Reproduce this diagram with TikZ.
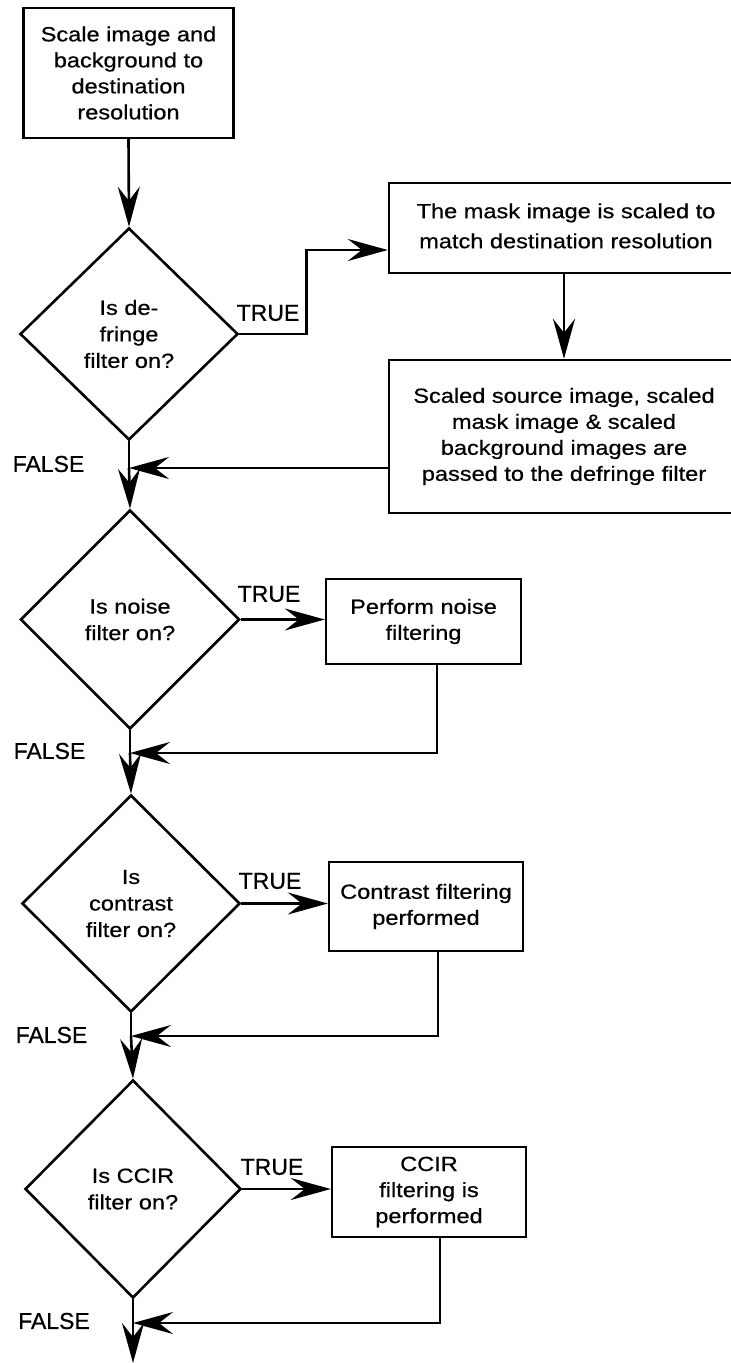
\documentclass[tikz,border=0pt]{standalone}
\usepackage{fontspec}
\setmainfont[FakeBold=0.6]{Liberation Sans}
\newfontfamily\boxfont[FakeStretch=1.15,FakeBold=0.6]{Liberation Sans}
\usetikzlibrary{shapes.geometric,arrows.meta}
\begin{document}
\begin{tikzpicture}[x=1pt,y=1pt,
  procbox/.style={draw,line width=2.4pt,inner sep=0pt,align=center,font=\boxfont\fontsize{20.5}{26}\selectfont},
  decision/.style={draw,shape=diamond,line width=2.6pt,inner sep=0pt,align=center,font=\boxfont\fontsize{20.5}{26.5}\selectfont},
  lbl/.style={font=\fontsize{23}{26}\selectfont},
  line/.style={line width=2.6pt},
  arr/.style={line width=2.6pt,-{Stealth[length=40pt,width=22pt,inset=14pt]}}]
\useasboundingbox (0,0) rectangle (731,-1363);
\clip (0,0) rectangle (731,-1363);
% boxes and decisions
\node[procbox,minimum width=210pt,minimum height=130pt] (b1) at (128.5,-73) {Scale image and\\background to\\destination\\resolution};
\node[decision,minimum width=218pt,minimum height=212pt] (d1) at (129,-334) {Is de-\\fringe\\filter on?};
\node[procbox,minimum width=354pt,minimum height=90pt] (b2) at (566,-228) {\raisebox{-7pt}{\begin{tabular}{@{}c@{}}The mask image is scaled to\\[4pt]match destination resolution\end{tabular}}};
\node[procbox,minimum width=350pt,minimum height=153pt] (b3) at (564,-436.5) {Scaled source image, scaled\\mask image \& scaled\\background images are\\passed to the defringe filter};
\coordinate (j1) at (129,-468);
\node[decision,minimum width=219pt,minimum height=219pt] (d2) at (130,-619.5) {Is noise\\filter on?};
\node[procbox,minimum width=195pt,minimum height=85pt] (b4) at (423.5,-621.5) {Perform noise\\filtering};
\coordinate (j2) at (130,-753);
\node[decision,minimum width=218pt,minimum height=217pt] (d3) at (131,-903.5) {Is\\contrast\\filter on?};
\node[procbox,minimum width=194pt,minimum height=89pt] (b5) at (426,-906.5) {Contrast filtering\\performed};
\coordinate (j3) at (131,-1036);
\node[decision,minimum width=216pt,minimum height=218pt] (d4) at (133,-1189) {Is CCIR\\filter on?};
\node[procbox,minimum width=194pt,minimum height=90pt] (b6) at (429,-1192) {CCIR\\filtering is\\performed};
\coordinate (j4) at (133,-1323);
\coordinate (end) at (133,-1363);
% labels
\node[lbl] (t1) at (268,-313) {TRUE};
\node[lbl] (t2) at (269,-594) {TRUE};
\node[lbl] (t3) at (270,-881) {TRUE};
\node[lbl] (t4) at (272,-1167) {TRUE};
\node[lbl] (f1) at (48.5,-464) {FALSE};
\node[lbl] (f2) at (49.5,-751) {FALSE};
\node[lbl] (f3) at (51.5,-1035) {FALSE};
\node[lbl] (f4) at (54,-1321) {FALSE};
% connectors
\draw[arr] (b1.south) -- (d1.north);
\draw[arr] (d1.east) -- ++(67,0) |- ([yshift=-22pt]b2.west);
\draw[arr] (b2.south -| b3.north) -- (b3.north);
\draw[arr] (b3.west |- j1) -- (j1);
\draw[line] (d1.south) -- (j1);
\draw[arr] (j1) -- (d2.north);
\draw[arr] (d2.east) -- (d2.east -| b4.west);
\draw[arr] ([xshift=13.5pt]b4.south) |- (j2);
\draw[line] (d2.south) -- (j2);
\draw[arr] (j2) -- (d3.north);
\draw[arr] (d3.east) -- (d3.east -| b5.west);
\draw[arr] ([xshift=12pt]b5.south) |- (j3);
\draw[line] (d3.south) -- (j3);
\draw[arr] (j3) -- (d4.north);
\draw[arr] (d4.east) -- (d4.east -| b6.west);
\draw[arr] ([xshift=11pt]b6.south) |- (j4);
\draw[line] (d4.south) -- (j4);
\draw[arr] (j4) -- (end);
\end{tikzpicture}
\end{document}
